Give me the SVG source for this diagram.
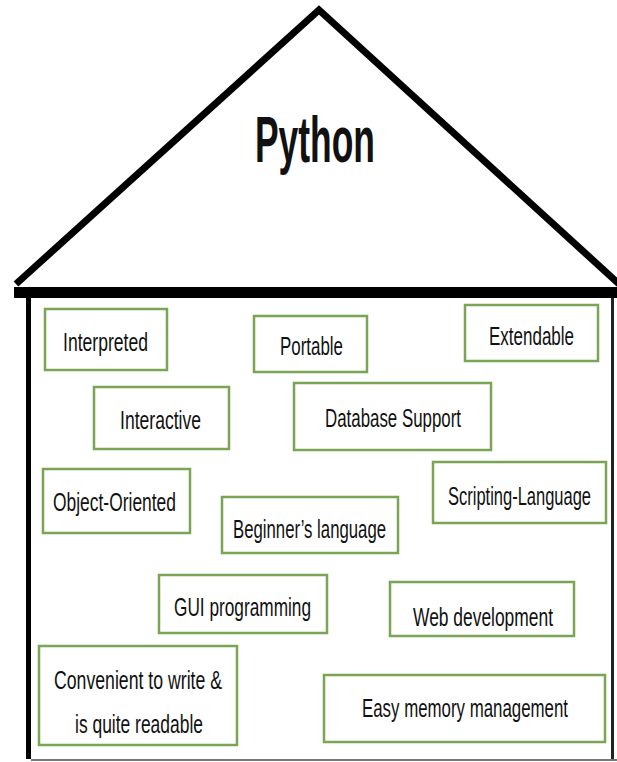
<svg xmlns="http://www.w3.org/2000/svg" width="617" height="762" viewBox="0 0 617 762">
<style>
.box{fill:#ffffff;stroke:#7aa554;stroke-width:2.5}
.lbl{font-family:"Liberation Sans",Arial,sans-serif;font-size:18px;fill:#111111;text-anchor:middle}
.title{font-family:"Liberation Sans",Arial,sans-serif;font-size:65px;font-weight:bold;fill:#111111;text-anchor:middle}
</style>
<rect x="0" y="0" width="617" height="762" fill="#ffffff"/>
<g id="house">
<polyline points="16,284 319,10 619,284" fill="none" stroke="#000000" stroke-width="7" stroke-linejoin="miter"/>
<rect x="14" y="287" width="603" height="11" fill="#000000"/>
<rect x="26" y="298" width="5" height="461" fill="#000000"/>
<rect x="611" y="298" width="3" height="461" fill="#222222"/>
<line x1="31" y1="760" x2="617" y2="760" stroke="#777777" stroke-width="2"/>
<text class="title" x="315" y="162" textLength="120" lengthAdjust="spacingAndGlyphs">Python</text>
</g>
<g id="connectors"></g>
<g id="interpreted"><rect class="box" x="45" y="309" width="122" height="61"/><text class="lbl" transform="translate(105.5,351) scale(1,1.45)" textLength="85" lengthAdjust="spacingAndGlyphs">Interpreted</text></g>
<g id="portable"><rect class="box" x="254" y="316" width="113" height="56"/><text class="lbl" transform="translate(311.5,355) scale(1,1.45)" textLength="63" lengthAdjust="spacingAndGlyphs">Portable</text></g>
<g id="extendable"><rect class="box" x="465" y="305" width="133" height="56"/><text class="lbl" transform="translate(531.5,345) scale(1,1.45)" textLength="85" lengthAdjust="spacingAndGlyphs">Extendable</text></g>
<g id="interactive"><rect class="box" x="94" y="387" width="135" height="62"/><text class="lbl" transform="translate(160.5,429) scale(1,1.45)" textLength="81" lengthAdjust="spacingAndGlyphs">Interactive</text></g>
<g id="database-support"><rect class="box" x="294" y="383" width="197" height="67"/><text class="lbl" transform="translate(393,427) scale(1,1.45)" textLength="136" lengthAdjust="spacingAndGlyphs">Database Support</text></g>
<g id="object-oriented"><rect class="box" x="43" y="469" width="147" height="64"/><text class="lbl" transform="translate(114.5,511) scale(1,1.45)" textLength="123" lengthAdjust="spacingAndGlyphs">Object-Oriented</text></g>
<g id="scripting-language"><rect class="box" x="433" y="462" width="173" height="61"/><text class="lbl" transform="translate(519.5,505) scale(1,1.45)" textLength="143" lengthAdjust="spacingAndGlyphs">Scripting-Language</text></g>
<g id="beginners-language"><rect class="box" x="222" y="497" width="176" height="56"/><text class="lbl" transform="translate(309.5,538) scale(1,1.45)" textLength="153" lengthAdjust="spacingAndGlyphs">Beginner’s language</text></g>
<g id="gui-programming"><rect class="box" x="159" y="575" width="168" height="58"/><text class="lbl" transform="translate(242.5,616) scale(1,1.45)" textLength="137" lengthAdjust="spacingAndGlyphs">GUI programming</text></g>
<g id="web-development"><rect class="box" x="390" y="582" width="184" height="54"/><text class="lbl" transform="translate(483,626) scale(1,1.45)" textLength="140" lengthAdjust="spacingAndGlyphs">Web development</text></g>
<g id="convenient"><rect class="box" x="39" y="646" width="198" height="99"/><text class="lbl" transform="translate(138,689) scale(1,1.45)" textLength="168" lengthAdjust="spacingAndGlyphs">Convenient to write &amp;</text><text class="lbl" transform="translate(139,733) scale(1,1.45)" textLength="128" lengthAdjust="spacingAndGlyphs">is quite readable</text></g>
<g id="easy-memory"><rect class="box" x="324" y="675" width="281" height="67"/><text class="lbl" transform="translate(465,717) scale(1,1.45)" textLength="206" lengthAdjust="spacingAndGlyphs">Easy memory management</text></g>
</svg>
